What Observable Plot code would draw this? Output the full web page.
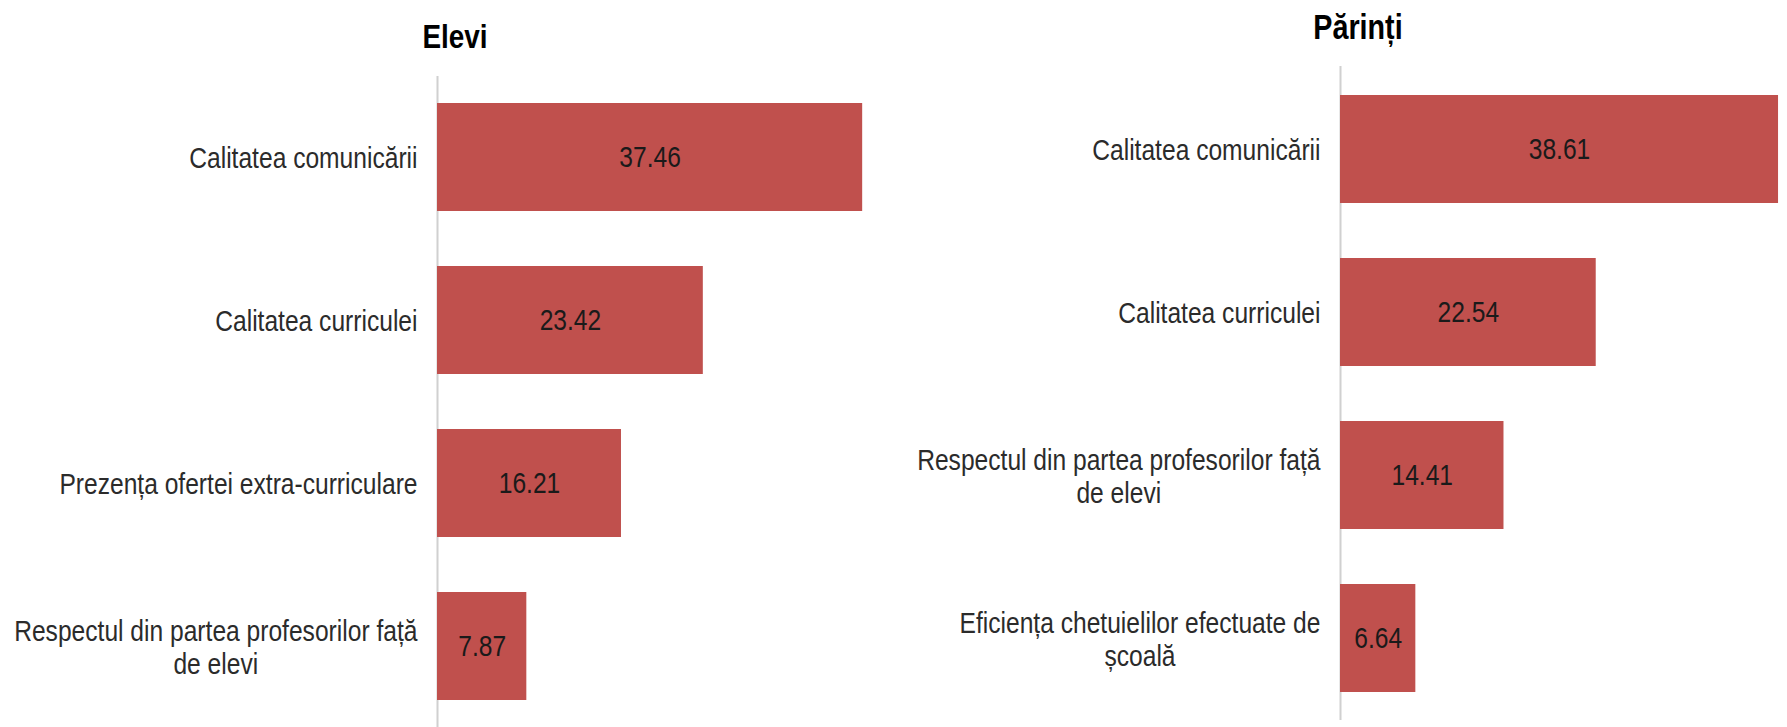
<!DOCTYPE html>
<html>
<head>
<meta charset="utf-8">
<script src="https://cdn.jsdelivr.net/npm/d3@7"></script>
<script src="https://cdn.jsdelivr.net/npm/@observablehq/plot@0.6"></script>
<style>
  html, body { margin: 0; padding: 0; background: #fff; }
  #root { position: relative; width: 1787px; height: 727px; overflow: hidden; background: #fff; }
  .panel { position: absolute; top: 0; }
  .panel svg { overflow: visible; }
  .title { position: absolute; z-index: 5; transform: translateX(-50%) scaleX(0.82); white-space: nowrap; line-height: 1;
           font-family: "Liberation Sans", Arial, sans-serif; font-weight: bold; color: #000; }
</style>
</head>
<body>
<div id="root">
  <div class="panel" id="left" style="left:0px;"></div>
  <div class="panel" id="right" style="left:891px;"></div>
  <div class="title" style="left:455px; top:19px; font-size:34px;">Elevi</div>
  <div class="title" style="left:1358px; top:9px; font-size:35px;">Părinți</div>
</div>
<script>
const FONT = '"Liberation Sans", Arial, sans-serif';
const SQUEEZE = 0.82;

// Elevi
const catsElevi = ["Calitatea comunicării", "Calitatea curriculei", "Prezența ofertei extra-curriculare", "Respectul din partea profesorilor față de elevi"];
const labelsElevi = ["Calitatea comunicării", "Calitatea curriculei", "Prezența ofertei extra-curriculare", "Respectul din partea profesorilor față\nde elevi"];
const valsElevi = [37.46, 23.42, 16.21, 7.87];

// Părinți
const catsParinti = ["Calitatea comunicării", "Calitatea curriculei", "Respectul din partea profesorilor față de elevi", "Eficiența chetuielilor efectuate de școală"];
const labelsParinti = ["Calitatea comunicării", "Calitatea curriculei", "Respectul din partea profesorilor față\nde elevi", "Eficiența chetuielilor efectuate de\nșcoală"];
const valsParinti = [38.61, 22.54, 14.41, 6.64];

const fmt = d3.format(".2f");

function makeChart(cats, labels, vals, opts) {
  const data = cats.map((c, i) => ({cat: c, value: vals[i]}));
  const labelOf = new Map(cats.map((c, i) => [c, labels[i]]));
  return Plot.plot({
    width: opts.width,
    height: 727,
    marginLeft: opts.marginLeft,
    marginRight: 0,
    marginTop: opts.marginTop,
    marginBottom: opts.marginBottom,
    style: {fontFamily: FONT, background: "transparent", overflow: "visible"},
    x: {domain: [0, opts.xmax], axis: null},
    y: {domain: cats, paddingInner: 0.34, paddingOuter: 0.165, axis: null},
    marks: [
      Plot.ruleX([0], {stroke: "#d0d0d0", strokeWidth: 2}),
      Plot.barX(data, {x: "value", y: "cat", fill: "#C0504D"}),
      Plot.text(data, {x: d => d.value / 2, y: "cat", text: d => fmt(d.value), fontSize: 30, fill: "#1a1a1a"}),
      Plot.axisY({tickSize: 0, tickPadding: 20, fontSize: 30, lineHeight: 1.1, label: null,
                  fill: "#2b2b2b", tickFormat: c => labelOf.get(c)})
    ]
  });
}

// narrow the glyphs horizontally (the reference uses a condensed face), and
// center the lines of wrapped labels on each other
function styleTexts(svg) {
  svg.querySelectorAll("text").forEach(t => {
    const spans = t.querySelectorAll("tspan");
    let tr = (t.getAttribute("transform") || "") + ` scale(${SQUEEZE},1)`;
    if (spans.length > 1) {
      let w = 0;
      spans.forEach(s => { w = Math.max(w, s.getComputedTextLength()); });
      t.setAttribute("text-anchor", "middle");
      tr += ` translate(${-w / 2},0)`;
    }
    t.setAttribute("transform", tr);
  });
}

const left = makeChart(catsElevi, labelsElevi, valsElevi, {width: 891, marginLeft: 437, marginTop: 76, marginBottom: 0, xmax: 40});
const right = makeChart(catsParinti, labelsParinti, valsParinti, {width: 896, marginLeft: 449, marginTop: 66, marginBottom: 7, xmax: 39.4});
document.getElementById("left").appendChild(left);
document.getElementById("right").appendChild(right);
styleTexts(left);
styleTexts(right);
</script>
</body>
</html>
